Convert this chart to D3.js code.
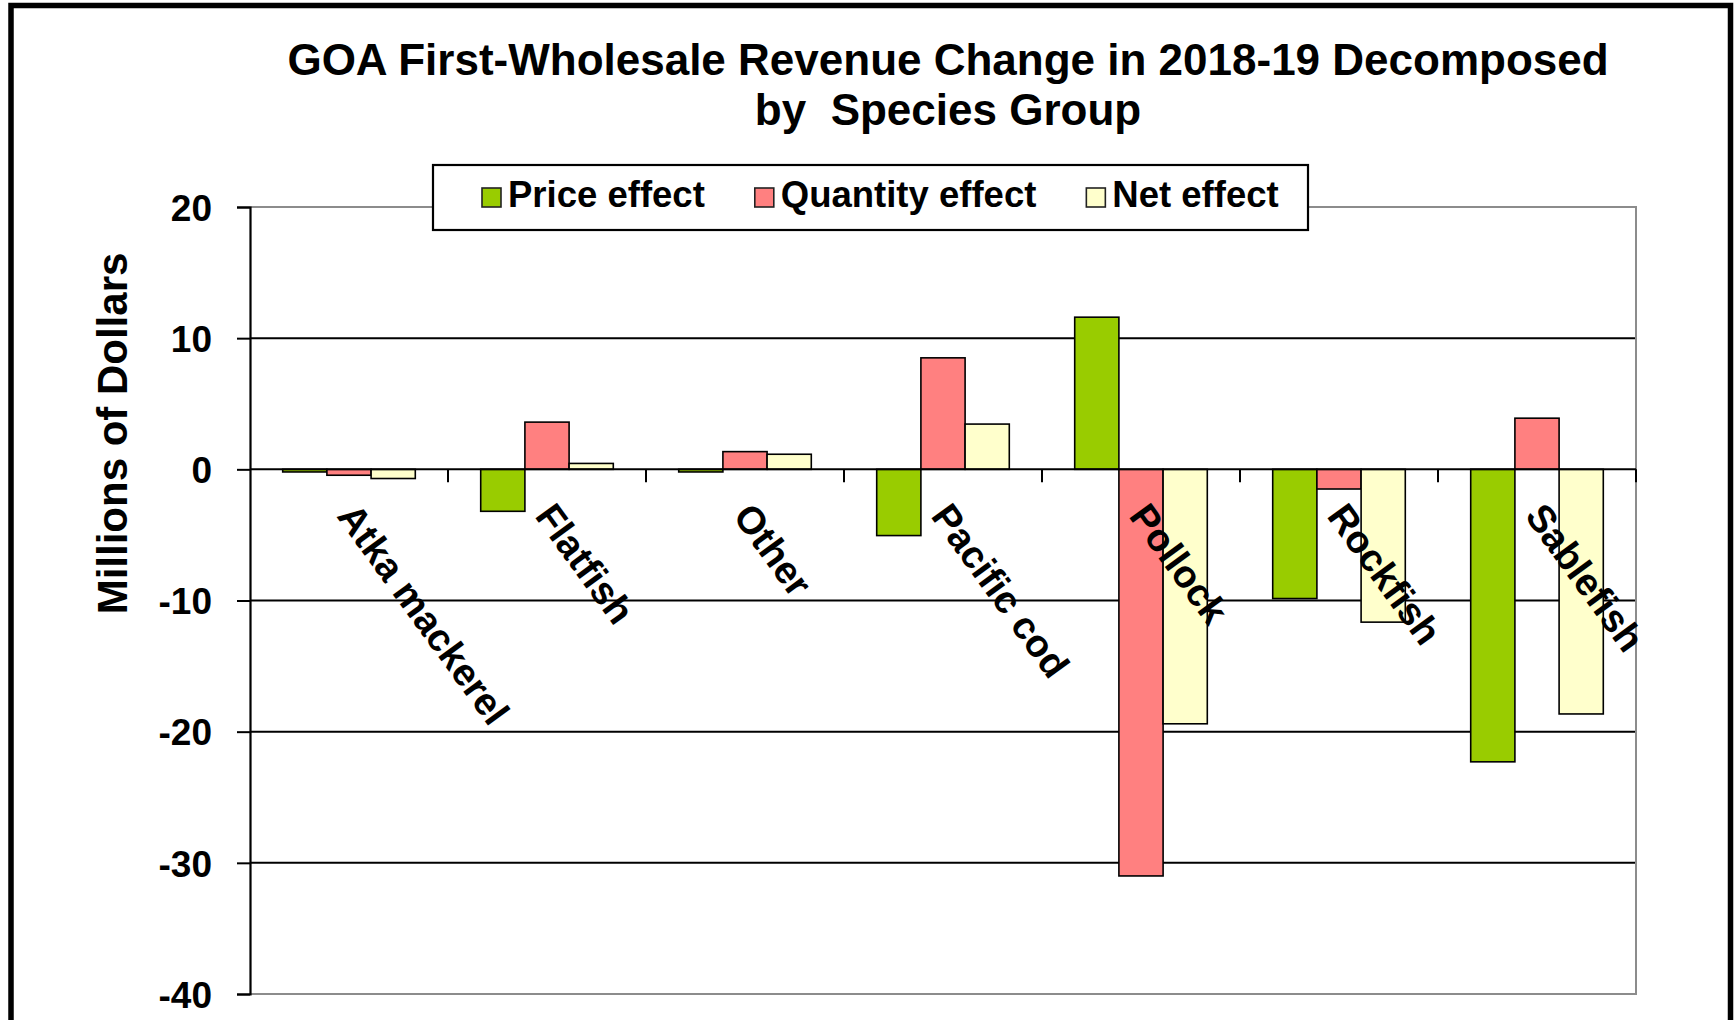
<!DOCTYPE html>
<html>
<head>
<meta charset="utf-8">
<script src="https://cdn.jsdelivr.net/npm/d3@7"></script>
<style>
  body { margin: 0; background: #fff; }
  text { font-family: "Liberation Sans", Arial, sans-serif; font-weight: bold; fill: #000; }
</style>
</head>
<body>
<div id="chart"></div>
<script>
// Species groups on the x axis
const categories = ["Atka mackerel", "Flatfish", "Other", "Pacific cod", "Pollock", "Rockfish", "Sablefish"];

// Series (millions of dollars)
const seriesNames = ["Price effect", "Quantity effect", "Net effect"];
const priceEffect    = [-0.2, -3.2, -0.2, -5.05, 11.6, -9.85, -22.3];
const quantityEffect = [-0.45, 3.6, 1.35, 8.5, -31.0, -1.5, 3.9];
const netEffect      = [-0.7, 0.45, 1.15, 3.45, -19.4, -11.65, -18.65];

const yTicks = [20, 10, 0, -10, -20, -30, -40];
const colors = ["#99CC00", "#FF8080", "#FFFFCC"];

const values = [priceEffect, quantityEffect, netEffect];
const data = categories.map((c, i) => ({
    cat: c,
    vals: seriesNames.map((s, j) => ({ key: s, value: values[j][i] }))
}));

const W = 1735, H = 1020;
const plot = { left: 250, right: 1636, top: 207, bottom: 994 };

const svg = d3.select("#chart").append("svg")
    .attr("width", W)
    .attr("height", H);

svg.append("rect").attr("width", W).attr("height", H).attr("fill", "#fff");

// Scales
const x0 = d3.scaleBand()
    .domain(categories)
    .range([plot.left, plot.right])
    .paddingInner(0)
    .paddingOuter(0);

const x1 = d3.scaleBand()
    .domain(seriesNames)
    .range([0, x0.bandwidth()])
    .paddingInner(0)
    .paddingOuter(0.74);

const y = d3.scaleLinear()
    .domain([-40, 20])
    .range([plot.bottom, plot.top]);

const color = d3.scaleOrdinal().domain(seriesNames).range(colors);

// Gridlines (black majors, grey frame at the ends)
svg.append("g")
    .selectAll("line")
    .data(yTicks.filter(d => d !== 20 && d !== -40 && d !== 0))
    .enter().append("line")
    .attr("x1", plot.left).attr("x2", plot.right)
    .attr("y1", d => y(d)).attr("y2", d => y(d))
    .attr("stroke", "#000").attr("stroke-width", 2);

// Plot frame (grey top, right, bottom)
svg.append("path")
    .attr("d", `M${plot.left},${y(20)}H${plot.right}V${y(-40)}H${plot.left}`)
    .attr("fill", "none")
    .attr("stroke", "#8c8c8c")
    .attr("stroke-width", 2);

// Bars
const groups = svg.selectAll(".grp")
    .data(data)
  .enter().append("g")
    .attr("class", "grp")
    .attr("transform", d => `translate(${x0(d.cat)},0)`);

groups.selectAll("rect")
    .data(d => d.vals)
  .enter().append("rect")
    .attr("x", d => x1(d.key))
    .attr("y", d => y(Math.max(0, d.value)))
    .attr("width", x1.bandwidth())
    .attr("height", d => Math.abs(y(d.value) - y(0)))
    .attr("fill", d => color(d.key))
    .attr("stroke", "#000")
    .attr("stroke-width", 1.6);

// Zero line with category ticks
svg.append("line")
    .attr("x1", plot.left).attr("x2", plot.right)
    .attr("y1", y(0)).attr("y2", y(0))
    .attr("stroke", "#000").attr("stroke-width", 2);

svg.append("g")
    .selectAll("line")
    .data(categories)
    .enter().append("line")
    .attr("x1", d => x0(d) + x0.bandwidth())
    .attr("x2", d => x0(d) + x0.bandwidth())
    .attr("y1", y(0)).attr("y2", y(0) + 13)
    .attr("stroke", "#000").attr("stroke-width", 2);

// Y axis
const yAxis = svg.append("g")
    .attr("transform", `translate(${plot.left},0)`)
    .call(d3.axisLeft(y).tickValues(yTicks).tickSize(13).tickPadding(25).tickFormat(d3.format("d")));

yAxis.select(".domain").attr("stroke", "#000").attr("stroke-width", 2.2);
yAxis.selectAll(".tick line").attr("stroke", "#000").attr("stroke-width", 2);
yAxis.selectAll(".tick text")
    .attr("fill", "#000")
    .style("font-family", "'Liberation Sans', Arial, sans-serif")
    .style("font-weight", "bold")
    .style("font-size", "37px")
    .attr("dy", "0.36em")
    .text(d => d < 0 ? "-" + Math.abs(d) : d);

// Category labels (rotated)
svg.append("g")
    .selectAll("text")
    .data(categories)
    .enter().append("text")
    .attr("transform", d => `translate(${x0(d) + x0.bandwidth() / 2 - 13},${y(0) + 47}) rotate(54)`)
    .attr("text-anchor", "start")
    .style("font-size", "38.5px")
    .text(d => d);

// Y axis title
svg.append("text")
    .attr("transform", `translate(127,${(plot.top + 660) / 2}) rotate(-90)`)
    .attr("text-anchor", "middle")
    .style("font-size", "42px")
    .text("Millions of Dollars");

// Title
const titleX = 948;
svg.append("text")
    .attr("x", titleX).attr("y", 75)
    .attr("text-anchor", "middle")
    .style("font-size", "44px")
    .text("GOA First-Wholesale Revenue Change in 2018-19 Decomposed");

svg.append("text")
    .attr("x", titleX).attr("y", 125)
    .attr("text-anchor", "middle")
    .style("font-size", "44px")
    .style("white-space", "pre")
    .text("by  Species Group");

// Legend
const legend = svg.append("g");
legend.append("rect")
    .attr("x", 433).attr("y", 165)
    .attr("width", 1308 - 433).attr("height", 65)
    .attr("fill", "#fff")
    .attr("stroke", "#000")
    .attr("stroke-width", 2.2);

let lx = 482;
seriesNames.forEach(s => {
    legend.append("rect")
        .attr("x", lx).attr("y", 188)
        .attr("width", 19).attr("height", 19)
        .attr("fill", color(s))
        .attr("stroke", "#222")
        .attr("stroke-width", 1.6);
    const t = legend.append("text")
        .attr("x", lx + 26).attr("y", 207)
        .style("font-size", "36.5px")
        .text(s);
    lx += 26 + t.node().getComputedTextLength() + 50;
});

// Outer chart border
svg.append("rect")
    .attr("x", 11).attr("y", 5.5)
    .attr("width", 1730.5 - 11).attr("height", 1100)
    .attr("fill", "none")
    .attr("stroke", "#000")
    .attr("stroke-width", 5.5);
</script>
</body>
</html>
